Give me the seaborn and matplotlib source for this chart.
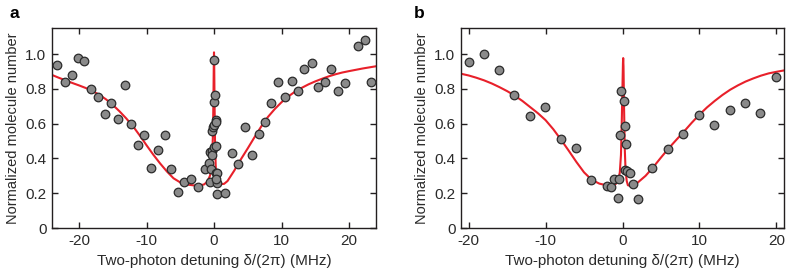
import matplotlib
matplotlib.use("Agg")
import matplotlib.pyplot as plt
import seaborn as sns
import pandas as pd

# ---------------- data ----------------
# Panel a: measured points
a_x = [-23.2, -22.1, -21.1, -20.1, -19.2, -18.2, -17.2, -16.2, -15.2, -14.2, -13.2,
       -12.3, -11.3, -10.3, -9.3, -8.3, -7.3, -6.3, -5.3, -4.4, -3.4, -2.4, -1.4,
       -0.7, -0.45, -0.65, -0.55, -0.35, -0.25, -0.25, -0.15, -0.05, 0.0, 0.0, 0.1,
       0.25, 0.3, 0.05, 0.35, 0.35, 0.5, 0.5, 0.3, 0.45, 1.6,
       2.6, 3.6, 4.6, 5.6, 6.6, 7.5, 8.5, 9.5, 10.5, 11.5, 12.5, 13.4, 14.5,
       15.4, 16.4, 17.4, 18.4, 19.4, 21.4, 22.4, 23.3]
a_y = [0.938, 0.842, 0.881, 0.975, 0.958, 0.798, 0.756, 0.654, 0.719, 0.627, 0.823,
       0.598, 0.477, 0.533, 0.346, 0.448, 0.533, 0.342, 0.208, 0.265, 0.281, 0.237, 0.342,
       0.375, 0.337, 0.265, 0.438, 0.444, 0.419, 0.558, 0.579, 0.592, 0.967, 0.723, 0.765,
       0.621, 0.612, 0.467, 0.471, 0.317, 0.317, 0.256, 0.279, 0.194, 0.202,
       0.429, 0.367, 0.583, 0.417, 0.538, 0.608, 0.721, 0.837, 0.752, 0.848, 0.790, 0.915, 0.948,
       0.813, 0.842, 0.913, 0.788, 0.833, 1.048, 1.079, 0.837]

# Panel a: fitted curve
a_fit_x = [-24, -23, -22, -21, -20, -19, -18, -17, -16, -15, -14, -13, -12, -11, -10,
           -9, -8, -7, -6, -5, -4, -3, -2, -1.5, -1, -0.6, -0.4, -0.25, -0.15, -0.08,
           -0.03, 0, 0.03, 0.08, 0.15, 0.25, 0.35, 0.5, 1, 1.5, 2, 3, 4, 5, 6, 7, 8,
           9, 10, 11, 12, 13, 14, 15, 16, 17, 18, 19, 20, 22, 24]
a_fit_y = [0.880, 0.864, 0.849, 0.834, 0.820, 0.805, 0.788, 0.766, 0.740, 0.708, 0.671,
           0.630, 0.585, 0.532, 0.476, 0.422, 0.372, 0.326, 0.286, 0.262, 0.250, 0.245,
           0.246, 0.250, 0.265, 0.300, 0.340, 0.420, 0.550, 0.750, 0.950, 1.010, 0.950,
           0.720, 0.500, 0.360, 0.300, 0.270, 0.252, 0.254, 0.270, 0.330, 0.396, 0.458,
           0.522, 0.584, 0.639, 0.684, 0.723, 0.756, 0.784, 0.806, 0.826, 0.843, 0.858,
           0.872, 0.884, 0.894, 0.902, 0.917, 0.930]

# Panel b: measured points
b_x = [-20.0, -18.0, -16.06, -14.07, -12.03, -10.09, -8.05, -6.02, -4.07, -2.08, -1.56,
       -1.17, -0.56, -0.48, -0.35, -0.17, 0.17, 0.30, 0.52, 0.30, 0.62, 0.95, 1.39, 2.0,
       3.9, 5.93, 7.92, 9.96, 11.9, 13.94, 15.93, 17.92, 19.91]
b_y = [0.954, 1.000, 0.906, 0.762, 0.644, 0.694, 0.510, 0.458, 0.275, 0.244, 0.237,
       0.281, 0.175, 0.281, 0.533, 0.788, 0.733, 0.588, 0.483, 0.333, 0.325, 0.319, 0.252, 0.169,
       0.346, 0.452, 0.540, 0.650, 0.592, 0.679, 0.717, 0.663, 0.871]

# Panel b: fitted curve
b_fit_x = [-21, -20, -19, -18, -17, -16, -15, -14, -13, -12, -11, -10, -9, -8, -7, -6,
           -5, -4, -3, -2, -1.2, -0.8, -0.5, -0.35, -0.2, -0.1, 0, 0.06, 0.09, 0.13,
           0.2, 0.3, 0.4, 0.55, 0.7, 1, 1.5, 2, 3, 4, 5, 6, 7, 8, 9, 10, 11, 12, 13,
           14, 15, 16, 17, 18, 19, 20, 21]
b_fit_y = [0.887, 0.877, 0.864, 0.849, 0.831, 0.810, 0.787, 0.761, 0.730, 0.695, 0.660,
           0.620, 0.568, 0.508, 0.445, 0.380, 0.320, 0.277, 0.255, 0.245, 0.245, 0.256,
           0.285, 0.320, 0.420, 0.600, 0.820, 0.950, 0.977, 0.930, 0.700, 0.450, 0.330,
           0.270, 0.246, 0.242, 0.248, 0.262, 0.300, 0.350, 0.405, 0.458, 0.507, 0.555,
           0.605, 0.652, 0.694, 0.731, 0.765, 0.795, 0.820, 0.842, 0.860, 0.876, 0.889,
           0.898, 0.906]

y_ticks = [0, 0.2, 0.4, 0.6, 0.8, 1.0]
y_tick_labels = ["0", "0.2", "0.4", "0.6", "0.8", "1.0"]
x_ticks = [-20, -10, 0, 10, 20]
x_tick_labels = ["-20", "-10", "0", "10", "20"]
x_label = "Two-photon detuning δ/(2π) (MHz)"
y_label = "Normalized molecule number"
panel_labels = ["a", "b"]

# ---------------- style ----------------
sns.set_theme(style="ticks")
plt.rcParams["font.family"] = ["Liberation Sans", "DejaVu Sans"]
plt.rcParams["axes.unicode_minus"] = False

DPI = 100
fig = plt.figure(figsize=(7.9, 2.75), dpi=DPI)
W, H = 790, 275

def px_axes(l, r, t, b):
    return fig.add_axes([l / W, 1 - b / H, (r - l) / W, (b - t) / H])

ax_a = px_axes(52, 376, 28, 228)
ax_b = px_axes(461, 784, 28, 228)

RED = "#e8202a"
EDGE = "#2b2b2b"
FILL = "#8a8a8a"
SPINE = "#231f20"
TEXT = "#2a2a2a"

panels = [
    (ax_a, a_x, a_y, a_fit_x, a_fit_y, (-24, 24), panel_labels[0], 9),
    (ax_b, b_x, b_y, b_fit_x, b_fit_y, (-21, 21), panel_labels[1], 414),
]

for ax, px, py, fx, fy, xlim, lab, lab_x in panels:
    fit_df = pd.DataFrame({"x": fx, "y": fy})
    pts_df = pd.DataFrame({"x": px, "y": py})
    sns.lineplot(data=fit_df, x="x", y="y", ax=ax, color=RED, lw=1.5,
                 sort=False, estimator=None, zorder=2)
    sns.scatterplot(data=pts_df, x="x", y="y", ax=ax, s=38, color=FILL,
                    edgecolor=EDGE, linewidth=0.9, zorder=3)
    ax.set_xlim(*xlim)
    ax.set_ylim(0, 1.15)
    ax.set_xticks(x_ticks)
    ax.set_xticklabels(x_tick_labels)
    ax.set_yticks(y_ticks)
    ax.set_yticklabels(y_tick_labels)
    ax.tick_params(direction="in", top=True, right=True, length=4, width=1.0,
                   color=SPINE, labelsize=11, labelcolor=TEXT, pad=4)
    for sp in ax.spines.values():
        sp.set_visible(True)
        sp.set_color(SPINE)
        sp.set_linewidth(1.0)
    ax.set_xlabel(x_label, fontsize=11, color=TEXT, labelpad=5)
    ax.set_ylabel(y_label, fontsize=10.5, color=TEXT, labelpad=4)
    fig.text(lab_x / W, 1 - 13 / H, lab, fontsize=12.5, fontweight="bold",
             ha="left", va="center", color="#000000")

fig.savefig("out.png", dpi=DPI)
